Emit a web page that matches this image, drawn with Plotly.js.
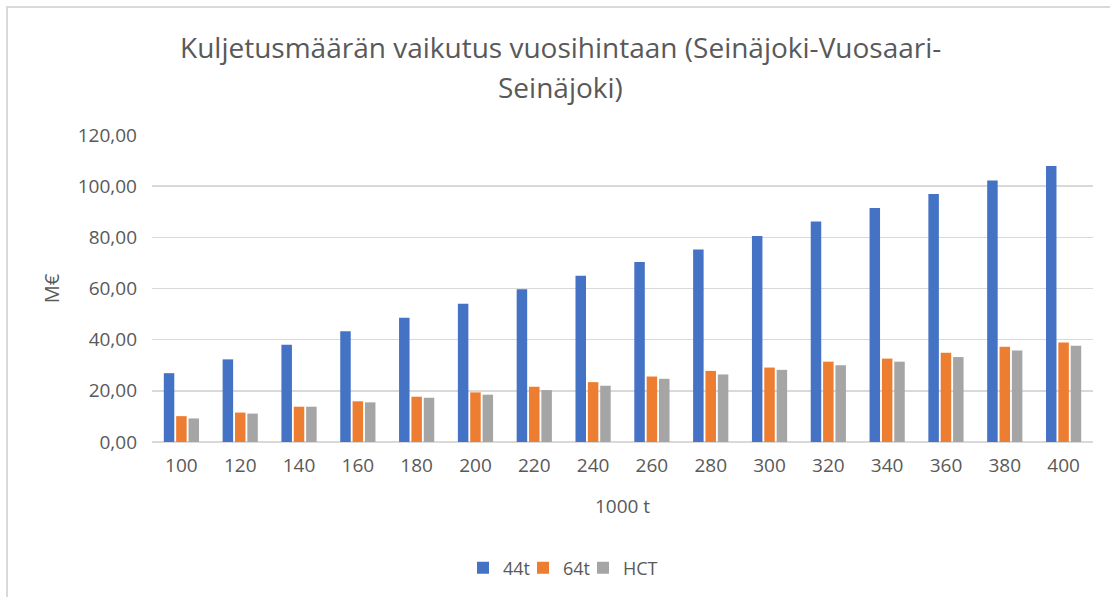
<!DOCTYPE html>
<html>
<head>
<meta charset="utf-8">
<script src="https://cdn.plot.ly/plotly-3.0.1.min.js"></script>
<style>
html,body{margin:0;padding:0;background:#fff;}
#chart{width:1110px;height:597px;}
#frame{position:absolute;left:6px;top:6px;width:1110px;height:600px;border-top:2px solid #d9d9d9;border-left:2px solid #d9d9d9;pointer-events:none;}
</style>
</head>
<body>
<div id="chart"></div>
<div id="frame"></div>
<script>
const categories = ['100','120','140','160','180','200','220','240','260','280','300','320','340','360','380','400'];
const series44t = [26.9, 32.3, 38.0, 43.3, 48.6, 54.0, 59.7, 65.0, 70.4, 75.2, 80.5, 86.2, 91.5, 96.9, 102.2, 107.9];
const series64t = [10.1, 11.5, 13.8, 15.9, 17.7, 19.4, 21.6, 23.4, 25.6, 27.8, 29.1, 31.4, 32.6, 34.9, 37.2, 38.9];
const seriesHCT = [9.2, 11.1, 13.8, 15.5, 17.3, 18.5, 20.3, 22.0, 24.7, 26.4, 28.2, 30.0, 31.4, 33.2, 35.8, 37.6];
const seriesNames = ['44t', '64t', 'HCT'];
const titleLines = ['Kuljetusmäärän vaikutus vuosihintaan (Seinäjoki-Vuosaari-', 'Seinäjoki)'];
const yTitle = 'M€';
const xTitle = '1000 t';

const FONT = 'Open Sans, Noto Sans, sans-serif';
const TXT = '#595959';
const colors = ['#4472C4', '#ED7D31', '#A5A5A5'];
const vals = [series44t, series64t, seriesHCT];
const legendIds = ['legend', 'legend2', 'legend3'];

const traces = vals.map((v, i) => ({
  type: 'bar',
  name: seriesNames[i],
  x: categories,
  y: v,
  legend: legendIds[i],
  marker: {color: colors[i], line: {width: 0}},
  hoverinfo: 'skip'
}));

const L = 152, R = 17, T = 135, B = 154;
const plotH = 597 - T - B;
function py(pix){ return (597 - B - pix) / plotH; }
function px(pix){ return (pix - L) / (1110 - L - R); }

function legendAt(pixX){
  return {orientation: 'h', x: px(pixX), xanchor: 'left', y: py(568), yanchor: 'middle',
          font: {family: FONT, size: 18, color: TXT}, itemwidth: 30, bgcolor: 'rgba(0,0,0,0)'};
}

const layout = {
  width: 1110, height: 597,
  margin: {l: L, r: R, t: T, b: B, pad: 0},
  paper_bgcolor: '#ffffff', plot_bgcolor: '#ffffff',
  font: {family: FONT, color: TXT, size: 19},
  separators: ', ',
  barmode: 'group',
  bargap: 0.37,
  bargroupgap: 0.15,
  showlegend: true,
  legend: legendAt(463),
  legend2: legendAt(523),
  legend3: legendAt(583),
  xaxis: {
    type: 'category', showgrid: false, showline: false, zeroline: false, ticks: '',
    ticklabelstandoff: 10,
    tickfont: {family: FONT, size: 19, color: TXT},
    title: {text: xTitle, font: {family: FONT, size: 19, color: TXT}, standoff: 22}
  },
  yaxis: {
    range: [0, 120], dtick: 20, tickformat: '.2f', showgrid: true, gridcolor: '#d9d9d9', gridwidth: 1.4,
    zeroline: true, zerolinecolor: '#d9d9d9', zerolinewidth: 1.4, showline: false, ticks: '',
    ticklabelstandoff: 14,
    tickfont: {family: FONT, size: 19, color: TXT},
    title: {text: yTitle, font: {family: FONT, size: 20, color: TXT}, standoff: 12}
  },
  annotations: [
    {text: titleLines[0], xref: 'paper', yref: 'paper', x: px(560), y: py(47), xanchor: 'center', yanchor: 'middle', showarrow: false, font: {family: FONT, size: 28, color: TXT}},
    {text: titleLines[1], xref: 'paper', yref: 'paper', x: px(560), y: py(87), xanchor: 'center', yanchor: 'middle', showarrow: false, font: {family: FONT, size: 28, color: TXT}}
  ]
};

Plotly.newPlot('chart', traces, layout, {displayModeBar: false, staticPlot: true});
</script>
</body>
</html>
